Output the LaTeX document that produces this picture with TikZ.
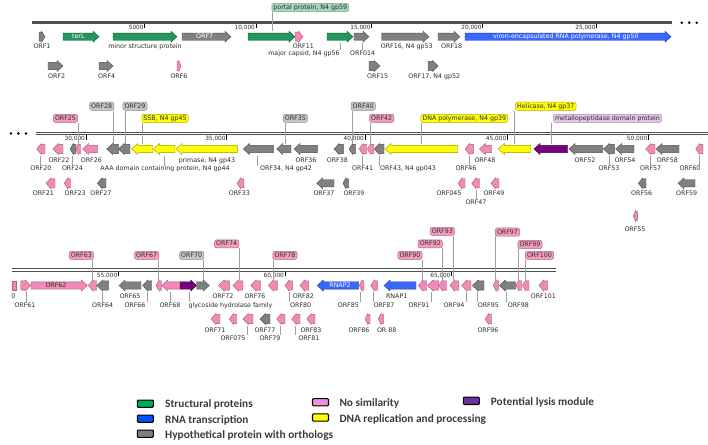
\documentclass[tikz,border=0pt]{standalone}
\usepackage{fontspec}
\newfontfamily\dv{DejaVu Sans}
\newfontfamily\cbf{Carlito}
\definecolor{cgray}{RGB}{128,128,128}
\definecolor{cpink}{RGB}{241,138,180}
\definecolor{cyel}{RGB}{255,255,0}
\definecolor{cblue}{RGB}{56,104,255}
\definecolor{cgreen}{RGB}{34,150,92}
\definecolor{cpurp}{RGB}{118,0,126}
\definecolor{ctxt}{RGB}{45,45,45}
\definecolor{cldr}{RGB}{160,160,160}
\definecolor{cbb}{RGB}{80,80,80}
\definecolor{lgreen}{RGB}{0,170,85}
\definecolor{lblue}{RGB}{0,80,255}
\definecolor{lpink}{RGB}{240,140,230}
\definecolor{lpurp}{RGB}{112,48,160}
\definecolor{ltxt}{RGB}{60,60,60}
\tikzset{
 gbase/.style={line width=0.4pt, line join=miter},
 gG/.style={gbase, fill=cgray, draw=cgray!65!black},
 gP/.style={gbase, fill=cpink, draw=cpink!70!black},
 gY/.style={gbase, fill=cyel, draw=cyel!60!black},
 gB/.style={gbase, fill=cblue, draw=cblue!60!black},
 gGr/.style={gbase, fill=cgreen, draw=cgreen!60!black},
 gV/.style={gbase, fill=cpurp, draw=cpurp!60!black},
 lbl/.style={inner sep=0.3pt, text height=4.6pt, text depth=0.2pt, font=\dv\fontsize{6.3}{7}\selectfont, text=ctxt},
 intxt/.style={lbl, text=white},
 tkl/.style={inner sep=0pt, text height=4.2pt, text depth=0pt, font=\dv\fontsize{5.8}{6.5}\selectfont, text=ctxt, anchor=east},
 tkm/.style={line width=0.6pt, draw=black},
 ldr/.style={line width=0.8pt, draw=cldr},
 cbox/.style={rounded corners=2pt, inner xsep=1.6pt, inner ysep=1.6pt, text height=4.6pt, text depth=0.3pt, font=\dv\fontsize{6.3}{7}\selectfont, text=ctxt, line width=0.5pt},
 coG/.style={cbox, fill=cgray!45, draw=cgray!90},
 coP/.style={cbox, fill=cpink!85, draw=cpink!75!black},
 coY/.style={cbox, fill=cyel, draw=cyel!70!black},
 coGr/.style={cbox, fill=cgreen!40, draw=cgreen!70},
 coV/.style={cbox, fill=cpurp!22, draw=cpurp!50},
 lgb/.style={draw=black, line width=1.1pt, rounded corners=1pt, minimum width=16pt, minimum height=7.3pt, inner sep=0pt},
 lgt/.style={anchor=west, inner sep=0pt, text height=7pt, text depth=2pt, font=\cbf\bfseries\fontsize{11.3}{13}\selectfont, text=ltxt},
}
% gene: style, x1, x2, y, dir
\newcommand\gn[5]{%
 \pgfmathsetmacro\gnL{#3-#2}%
 \pgfmathsetmacro\gnH{min(6,0.55*\gnL)}%
 \pgfmathsetmacro\gnB{\gnL<12 ? 4.6 : 3.6}%
 \if#5R
  \filldraw[#1] (#2,{#4-\gnB}) -- ({#3-\gnH},{#4-\gnB}) -- ({#3-\gnH},{#4-5.5}) -- (#3,#4) -- ({#3-\gnH},{#4+5.5}) -- ({#3-\gnH},{#4+\gnB}) -- (#2,{#4+\gnB}) -- cycle;
 \else
  \filldraw[#1] (#3,{#4-\gnB}) -- ({#2+\gnH},{#4-\gnB}) -- ({#2+\gnH},{#4-5.5}) -- (#2,#4) -- ({#2+\gnH},{#4+5.5}) -- ({#2+\gnH},{#4+\gnB}) -- (#3,{#4+\gnB}) -- cycle;
 \fi}
% label: name, x, y, text
\newcommand\lb[4]{\node[lbl] (#1) at (#2,#3) {#4};}
% leader down to label: x, ystart, name
\newcommand\ld[3]{\draw[ldr] (#1,#2) -- (#1,#2 |- #3.north);}
% callout leader: x, ygene, name
\newcommand\lc[3]{\draw[ldr] (#3.south -| #1,0) -- (#1,#2);}
% tick: name, x, ytop, ylabel, text
\newcommand\tk[5]{\draw[tkm] (#2,#3) -- (#2,{#3+4.2}); \node[tkl] (#1) at ({#2-0.9},#4) {#5};}
\begin{document}
\begin{tikzpicture}[x=1pt,y=-1pt]
\useasboundingbox (0,0) rectangle (708,444);
\fill[white] (0,0) rectangle (708,444);

%================ ROW 1 =================
\draw[line width=3pt, cbb] (32,22.7) -- (672,22.7);
\foreach \d [count=\i] in {681.7,689.3,696.7} \fill[black] (\d,22.7) circle (1.4pt) coordinate (ra\i);
\tk{t5}{144.7}{24.3}{27.9}{5000}
\tk{t10}{256}{24.3}{27.9}{10,000}
\tk{t15}{371.7}{24.3}{27.9}{15,000}
\tk{t20}{482.7}{24.3}{27.9}{20,000}
\tk{t25}{596.7}{24.3}{27.9}{25,000}

\gn{gG}{39}{45}{36.7}{R}
\gn{gGr}{63}{99}{36.7}{R}
\node[intxt] (tterL) at (78.3,36.7) {terL};
\gn{gGr}{113}{177}{36.7}{R}
\gn{gG}{182}{231}{36.7}{R}
\node[intxt] (tORF7) at (204.7,36.7) {ORF7};
\gn{gGr}{248}{295}{36.7}{R}
\gn{gP}{295}{303}{36.7}{R}
\gn{gGr}{327}{353}{36.7}{R}
\gn{gG}{354}{369}{36.7}{R}
\gn{gG}{381.7}{429}{36.7}{R}
\gn{gG}{438}{460}{36.7}{R}
\gn{gB}{465}{671}{36.7}{R}
\node[intxt] (tvrnap) at (565.8,36.7) {viron-encapsulated RNA polymerase, N4 gp50};

\gn{gG}{48}{63}{66}{R}
\gn{gG}{99}{113}{66}{R}
\gn{gP}{177}{181}{66}{R}
\gn{gG}{369}{380}{66}{R}
\gn{gG}{428}{438}{66}{R}

\lb{l1}{42}{46.7}{ORF1}
\lb{lminor}{145}{46.7}{minor structure protein}
\lb{l11}{303.3}{46.7}{ORF11}
\lb{l16}{406.7}{46.7}{ORF16, N4 gp53}
\lb{l18}{451.7}{46.7}{ORF18}
\lb{lcap}{304}{53.3}{major capsid, N4 gp56}
\ld{340.7}{42.8}{lcap}
\lb{l014}{362.7}{53.3}{ORF014}
\ld{362.3}{42.8}{l014}
\lb{l2}{56.7}{76}{ORF2}
\lb{l4}{106.7}{76}{ORF4}
\lb{l6}{179}{76}{ORF6}
\lb{l15}{377.7}{76}{ORF15}
\lb{l17}{434.2}{76}{ORF17, N4 gp52}

\node[coGr] (cportal) at (310.3,7.5) {portal protein, N4 gp59};
\lc{272.7}{31}{cportal}

%================ ROW 2 =================
\draw[line width=1.2pt, cbb] (36,132.2) -- (708,132.2);
\draw[line width=1.2pt, cbb] (36,134.6) -- (708,134.6);
\foreach \d [count=\i] in {11,18.3,26} \fill[black] (\d,133.4) circle (1.4pt) coordinate (rb\i);
\tk{t30}{86}{135.3}{138.5}{30,000}
\tk{t35}{226.7}{135.3}{138.5}{35,000}
\tk{t40}{365}{135.3}{138.5}{40,000}
\tk{t45}{507.3}{135.3}{138.5}{45,000}
\tk{t50}{648.3}{135.3}{138.5}{50,000}

\gn{gP}{36.7}{45}{149}{L}
\gn{gP}{53}{63}{149}{L}
\gn{gG}{70}{76}{149}{L}
\gn{gP}{76}{80.5}{149}{L}
\gn{gP}{82.7}{97.3}{149}{L}
\gn{gG}{106.7}{118.3}{149}{L}
\gn{gG}{118.3}{130}{149}{L}
\gn{gY}{131.7}{152.7}{149}{L}
\gn{gY}{153.3}{175}{149}{L}
\gn{gY}{176}{237.3}{149}{L}
\gn{gG}{243.3}{273.3}{149}{L}
\gn{gG}{276.7}{291}{149}{L}
\gn{gG}{294}{317.3}{149}{L}
\gn{gG}{334}{343.3}{149}{L}
\gn{gG}{349}{355.7}{149}{L}
\gn{gP}{359}{366.7}{149}{L}
\gn{gP}{367.3}{374}{149}{L}
\gn{gG}{374.3}{384}{149}{L}
\gn{gY}{385}{457.7}{149}{L}
\gn{gP}{465}{473.3}{149}{L}
\gn{gP}{479.3}{491.7}{149}{L}
\gn{gY}{498.3}{530.7}{149}{L}
\gn{gV}{534}{567.7}{149}{L}
\gn{gG}{569}{602.3}{149}{L}
\gn{gG}{603.3}{614.3}{149}{L}
\gn{gG}{615.7}{634}{149}{L}
\gn{gP}{645.7}{655}{149}{L}
\gn{gG}{656}{679}{149}{L}
\gn{gP}{695.7}{703}{149}{L}

\gn{gP}{46}{55}{183.3}{L}
\gn{gP}{64.3}{70.7}{183.3}{L}
\gn{gG}{97.3}{106}{183.3}{L}
\gn{gP}{237}{243.8}{183.3}{L}
\gn{gG}{316.7}{334}{183.3}{L}
\gn{gG}{343}{348.3}{183.3}{L}
\gn{gP}{458}{465}{183.3}{L}
\gn{gP}{471.8}{479.5}{183.3}{L}
\gn{gP}{491}{499}{183.3}{L}
\gn{gG}{638.3}{646}{183.3}{L}
\gn{gG}{678}{695}{183.3}{L}
\gn{gP}{633.3}{637.3}{216}{L}

\lb{l22}{59}{160.2}{ORF22}
\lb{l26}{91.3}{160.2}{ORF26}
\lb{lprim}{207}{160.2}{primase, N4 gp43}
\lb{l36}{306}{160.2}{ORF36}
\lb{l38}{337.3}{160.2}{ORF38}
\lb{l48}{485}{160.2}{ORF48}
\lb{l52}{585}{160.2}{ORF52}
\lb{l54}{625}{160.2}{ORF54}
\lb{l58}{667.3}{160.2}{ORF58}

\lb{l20}{40.8}{168.4}{ORF20}\ld{40.7}{155.5}{l20}
\lb{l24}{72.5}{168.4}{ORF24}\ld{72.7}{155.5}{l24}
\lb{laaa}{165}{168.4}{AAA domain containing protein, N4 gp44}\ld{164}{155.5}{laaa}
\lb{l34}{286}{168.4}{ORF34, N4 gp42}\ld{257.7}{155.5}{l34}
\lb{l41}{362.7}{168.4}{ORF41}\ld{362.7}{155.5}{l41}
\lb{l43}{408}{168.4}{ORF43, N4 gp043}\ld{379}{155.5}{l43}
\lb{l46}{466}{168.4}{ORF46}\ld{469}{155.5}{l46}
\lb{l53}{609}{168.4}{ORF53}\ld{609}{155.5}{l53}
\lb{l57}{650.7}{168.4}{ORF57}\ld{650.7}{155.5}{l57}
\lb{l60}{690}{168.4}{ORF60}\ld{699.3}{155.5}{l60}

\lb{l21}{43.3}{193.6}{ORF21}
\lb{l23}{75.2}{193.6}{ORF23}
\lb{l27}{100.8}{193.6}{ORF27}
\lb{l33}{239.3}{193.6}{ORF33}
\lb{l37}{324}{193.6}{ORF37}
\lb{l39}{354}{193.6}{ORF39}
\lb{l045}{449}{193.6}{ORF045}
\lb{l49}{494}{193.6}{ORF49}
\lb{l56}{641.7}{193.6}{ORF56}
\lb{l59}{686.7}{193.6}{ORF59}
\lb{l47}{476}{201.8}{ORF47}\ld{476}{190}{l47}
\lb{l55}{635}{229.3}{ORF55}

\node[coG] (c28) at (101.7,106.2) {ORF28}; \lc{113.3}{143.5}{c28}
\node[coG] (c29) at (135,106.2) {ORF29}; \lc{125}{143.5}{c29}
\node[coG] (c40) at (363.2,106.2) {ORF40}; \lc{352.3}{143.5}{c40}
\node[coY] (chel) at (545.8,106.2) {Helicase, N4 gp37}; \lc{514.3}{143.5}{chel}
\node[coP] (c25) at (65.5,118.3) {ORF25}; \lc{78.3}{143.5}{c25}
\node[coY] (cssb) at (165,118.3) {SSB, N4 gp45}; \lc{142.3}{143.5}{cssb}
\node[coG] (c35) at (295.3,118.3) {ORF35}; \lc{285}{143.5}{c35}
\node[coP] (c42) at (381.7,118.3) {ORF42}; \lc{370.7}{143.5}{c42}
\node[coY] (cpol) at (464.3,118.3) {DNA polymerase, N4 gp39}; \lc{421.7}{143.5}{cpol}
\node[coV] (cmet) at (607.5,118.3) {metallopeptidase domain protein}; \lc{551}{143.5}{cmet}

%================ ROW 3 =================
\draw[line width=1.2pt, cbb] (11.7,268.8) -- (556,268.8);
\draw[line width=1.2pt, cbb] (11.7,271.2) -- (556,271.2);
\tk{t55}{118.3}{271.9}{275.7}{55,000}
\tk{t60}{285}{271.9}{275.7}{60,000}
\tk{t65}{451.7}{271.9}{275.7}{65,000}

\filldraw[gP] (11.7,280.9) rectangle (15.7,290.1);
\gn{gP}{20.7}{31}{285.5}{R}
\gn{gP}{31}{87.3}{285.5}{R}
\node[lbl] (t62) at (56,285.5) {ORF62};
\gn{gP}{88.3}{96.7}{285.5}{L}
\gn{gG}{96.7}{108.3}{285.5}{L}
\gn{gG}{119}{141}{285.5}{L}
\gn{gG}{142.7}{151.7}{285.5}{L}
\gn{gP}{156}{161.7}{285.5}{L}
\gn{gP}{161.7}{180}{285.5}{L}
\gn{gV}{180}{196.7}{285.5}{R}
\gn{gG}{196.7}{209.3}{285.5}{R}
\gn{gP}{218.3}{229.3}{285.5}{L}
\gn{gP}{233}{243}{285.5}{L}
\gn{gP}{250.7}{260.7}{285.5}{L}
\gn{gP}{268.3}{277.3}{285.5}{L}
\gn{gP}{285}{292.3}{285.5}{L}
\gn{gP}{300}{308.3}{285.5}{L}
\gn{gB}{317.3}{358.3}{285.5}{L}
\node[intxt] (trnap2) at (340,285.5) {RNAP2};
\gn{gP}{359.3}{364}{285.5}{L}
\gn{gP}{370.7}{377.3}{285.5}{L}
\gn{gB}{384}{416}{285.5}{L}
\gn{gP}{418.3}{426.7}{285.5}{L}
\gn{gP}{427.3}{438.3}{285.5}{L}
\gn{gP}{438.3}{446.7}{285.5}{L}
\gn{gP}{450}{458.3}{285.5}{L}
\gn{gP}{461.7}{471}{285.5}{L}
\gn{gG}{472.3}{484}{285.5}{L}
\gn{gP}{493.3}{498.3}{285.5}{L}
\gn{gG}{499.3}{515.7}{285.5}{L}
\gn{gP}{515.7}{521.7}{285.5}{L}
\gn{gP}{522.3}{529}{285.5}{L}
\gn{gP}{539}{547.3}{285.5}{L}

\gn{gP}{211}{220}{319}{L}
\gn{gP}{229.3}{236.7}{319}{L}
\gn{gP}{243}{253}{319}{L}
\gn{gG}{260}{270}{319}{L}
\gn{gP}{276.7}{285}{319}{L}
\gn{gP}{291.7}{300}{319}{L}
\gn{gP}{306.7}{315}{319}{L}
\gn{gP}{365}{370}{319}{L}
\gn{gP}{378.3}{383.3}{319}{L}
\gn{gP}{485}{491.7}{319}{L}

\lb{l0}{13.5}{296.7}{0}
\lb{l65}{130}{296.7}{ORF65}
\lb{l72}{223}{296.7}{ORF72}
\lb{l76}{255}{296.7}{ORF76}
\lb{l82}{303.3}{296.7}{ORF82}
\lb{lr1}{396.7}{296.7}{RNAP1}
\lb{l101}{543.3}{296.7}{ORF101}

\lb{l61}{25}{305}{ORF61}\ld{26}{292}{l61}
\lb{l64}{102.7}{305}{ORF64}\ld{102.7}{292}{l64}
\lb{l66}{135}{305}{ORF66}\ld{147.3}{292}{l66}
\lb{l68}{170}{305}{ORF68}\ld{170}{292}{l68}
\node[lbl, anchor=west] (lgly) at (188,305) {glycoside hydrolase family};\ld{189}{292}{lgly}
\lb{l80}{300.7}{305}{ORF80}\ld{289}{292}{l80}
\lb{l85}{348.3}{305}{ORF85}\ld{360.7}{292}{l85}
\lb{l87}{384}{305}{ORF87}\ld{373.3}{292}{l87}
\lb{l91}{419}{305}{ORF91}\ld{431}{292}{l91}
\lb{l94}{454}{305}{ORF94}\ld{466}{292}{l94}
\lb{l95}{488.3}{305}{ORF95}\ld{477.3}{292}{l95}
\lb{l98}{518.3}{305}{ORF98}\ld{506}{292}{l98}

\lb{l71}{215}{330}{ORF71}
\lb{l77}{265}{330}{ORF77}
\lb{l83}{311}{330}{ORF83}
\lb{l86}{359}{330}{ORF86}
\lb{l88}{386.7}{330}{OR 88}
\lb{l96}{488}{330}{ORF96}
\lb{l075}{233}{338.3}{ORF075}\ld{247}{325.5}{l075}
\lb{l79}{270}{338.3}{ORF79}\ld{280}{325.5}{l79}
\lb{l81}{309}{338.3}{ORF81}\ld{295}{325.5}{l81}

\node[coP] (c63) at (81.3,255.3) {ORF63}; \lc{92.7}{280}{c63}
\node[coP] (c67) at (146.7,255.3) {ORF67}; \lc{158.3}{280}{c67}
\node[coG] (c70) at (191.7,255.3) {ORF70}; \lc{203.3}{280}{c70}
\node[coP] (c78) at (285,255.3) {ORF78}; \lc{273.3}{280}{c78}
\node[coP] (c90) at (410,255.3) {ORF90}; \lc{422.3}{280}{c90}
\node[coP] (c100) at (539.5,255.3) {ORF100}; \lc{525.7}{280}{c100}
\node[coP] (c74) at (226.7,243.8) {ORF74}; \lc{239.3}{280}{c74}
\node[coP] (c92) at (430.3,243.8) {ORF92}; \lc{442.3}{280}{c92}
\node[coP] (c99) at (530,244.5) {ORF99}; \lc{518.3}{280}{c99}
\node[coP] (c93) at (442.3,231.3) {ORF93}; \lc{453.3}{280}{c93}
\node[coP] (c97) at (507.5,232) {ORF97}; \lc{495.7}{280}{c97}

%================ LEGEND =================
\node[lgb, fill=lgreen] (kg) at (145.3,403.7) {};
\node[lgt] (kgt) at (165,405) {Structural proteins};
\node[lgb, fill=lblue] (kb) at (145.3,418.7) {};
\node[lgt] (kbt) at (165,421.2) {RNA transcription};
\node[lgb, fill=cgray] (kh) at (145.3,433.7) {};
\node[lgt] (kht) at (165,436.3) {Hypothetical protein with orthologs};
\node[lgb, fill=lpink] (kp) at (320.5,402.2) {};
\node[lgt] (kpt) at (339.3,403.5) {No similarity};
\node[lgb, fill=cyel] (ky) at (320.5,417.5) {};
\node[lgt] (kyt) at (339.3,420) {DNA replication and processing};
\node[lgb, fill=lpurp] (kv) at (471.3,400.8) {};
\node[lgt] (kvt) at (490.7,402.5) {Potential lysis module};
\end{tikzpicture}
\end{document}
